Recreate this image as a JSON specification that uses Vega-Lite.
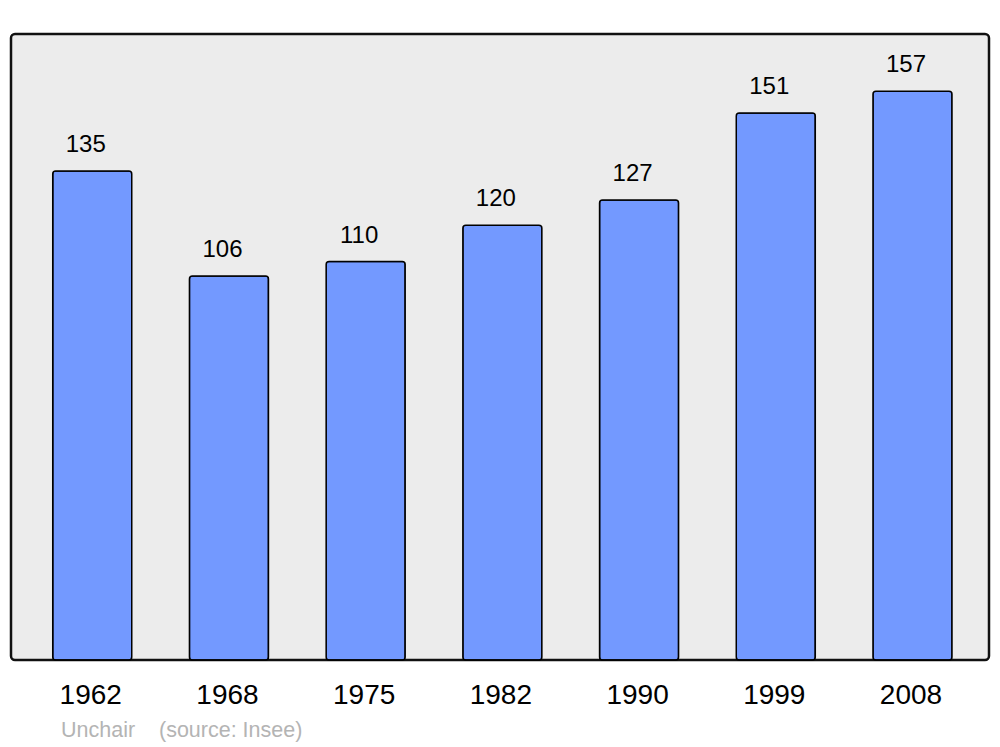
{
  "$schema": "https://vega.github.io/schema/vega-lite/v6.json",
  "autosize": "none",
  "width": 978,
  "height": 626,
  "padding": {"left": 11, "top": 34, "right": 11, "bottom": 87},
  "background": "white",
  "config": {
    "font": "Liberation Sans",
    "view": {"fill": "#ececec", "stroke": "#111111", "strokeWidth": 2.5, "cornerRadius": 4}
  },
  "title": {
    "text": "Unchair\u00a0\u00a0\u00a0\u00a0(source: Insee)",
    "orient": "bottom",
    "anchor": "start",
    "dx": 50,
    "offset": 11,
    "fontSize": 21.5,
    "fontWeight": "normal",
    "color": "#b4b4b4",
    "font": "Liberation Sans"
  },
  "data": {
    "values": [
      {"year": "1962", "pop": 135},
      {"year": "1968", "pop": 106},
      {"year": "1975", "pop": 110},
      {"year": "1982", "pop": 120},
      {"year": "1990", "pop": 127},
      {"year": "1999", "pop": 151},
      {"year": "2008", "pop": 157}
    ]
  },
  "encoding": {
    "x": {
      "field": "year",
      "type": "nominal",
      "sort": null,
      "scale": {"paddingInner": 0.422, "paddingOuter": 0.288, "align": 0.53},
      "axis": {
        "title": null,
        "domain": false,
        "ticks": false,
        "labelAngle": 0,
        "labelFontSize": 28,
        "labelColor": "#000000",
        "labelPadding": 21,
        "labelOffset": -1.5
      }
    },
    "y": {
      "field": "pop",
      "type": "quantitative",
      "scale": {"domain": [0, 172.8], "nice": false},
      "axis": null
    }
  },
  "layer": [
    {
      "mark": {"type": "bar", "color": "#7399ff", "stroke": "#000000", "strokeWidth": 1.5, "cornerRadius": 3}
    },
    {
      "mark": {"type": "text", "dy": -19, "dx": -6.5, "baseline": "alphabetic", "fontSize": 24, "color": "#000000"},
      "encoding": {"text": {"field": "pop", "type": "quantitative"}}
    }
  ]
}
